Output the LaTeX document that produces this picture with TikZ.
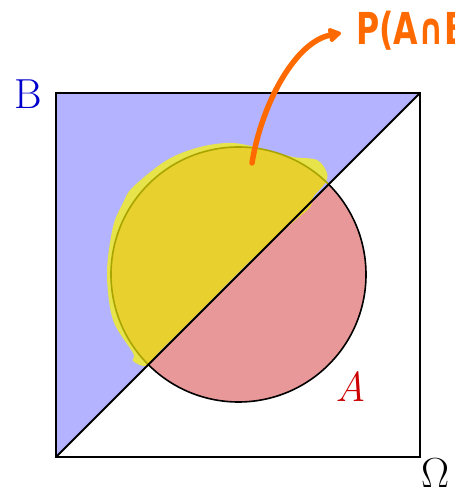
\documentclass[tikz,border=0pt]{standalone}
\usepackage{fontspec}
\newfontfamily\handfont{DejaVu Sans}
\usetikzlibrary{arrows.meta}
\definecolor{bluefill}{HTML}{B3B3FF}
\definecolor{redfill}{HTML}{E89898}
\definecolor{hlight}{HTML}{E6E34B}
\definecolor{hdark}{HTML}{E8D12E}
\definecolor{olive}{HTML}{A9A400}
\definecolor{orangepen}{HTML}{FF6A00}
\definecolor{labelblue}{HTML}{0000CC}
\definecolor{labelred}{HTML}{CC0000}
\tikzset{
  frame/.style={line width=2pt, black},
  lbl/.style={inner sep=0pt, font=\fontsize{42}{42}\selectfont},
}
\def\blobpath{plot[smooth cycle, tension=0.55] coordinates {
 (146,124) (133,129) (133,137) (113,170) (107,217) (113,263) (123,287)
 (133,303) (167,330) (200,343) (233,347) (267,340) (293,333) (317,330)
 (327,317) (325,307) (313,293) (310,283) (293,268) (273,250) (250,229)
 (220,199) (190,169) (170,149) (157,136)}}
\begin{document}
\begin{tikzpicture}[x=1pt,y=1pt]
\useasboundingbox (0,0) rectangle (455,490);
\clip (0,0) rectangle (455,490);
\coordinate (BL) at (56,33);
\coordinate (TL) at (56,397);
\coordinate (TR) at (420,397);
\coordinate (BR) at (420,33);
\coordinate (C) at (238.5,215.5);
% blue triangle (event B)
\fill[bluefill] (BL) -- (TL) -- (TR) -- cycle;
% red half disc (A minus B)
\fill[redfill] (C) ++(-135:127.5) arc (-135:45:127.5) -- cycle;
% yellow highlighter
\path[fill=hlight] \blobpath;
\begin{scope}
\clip (C) circle (127.5);
\path[fill=hdark] \blobpath;
\end{scope}
% circle outline
\draw[line width=1.6pt, olive] (C) ++(45:127.5) arc (45:225:127.5);
\draw[line width=1.6pt, black] (C) ++(-135:127.5) arc (-135:45:127.5);
% square and diagonal
\draw[frame] (BL) -- (TR);
\draw[frame] (BL) rectangle (TR);
% labels
\node[lbl, text=labelblue] (labB) at (28,396) {B};
\node[lbl, text=labelred] (labA) at (351,103) {\textit{A}};
\node[lbl, anchor=base west] (labO) at (421,2) {Ω};
% handwritten annotation
\coordinate (pstart) at (252,327);
\coordinate (pend) at (341,457);
\node[anchor=west, inner sep=0pt, text=orangepen, xscale=0.72,
  font=\handfont\bfseries\fontsize{44}{44}\selectfont] (pab) at (356,459) {P(A∩B)};
\draw[orangepen, line width=5.5pt, line cap=round,
  -{Triangle[length=14pt,width=16pt,round]}]
  (pstart) .. controls (262,388) and (296,448) .. (pend);
\end{tikzpicture}
\end{document}
